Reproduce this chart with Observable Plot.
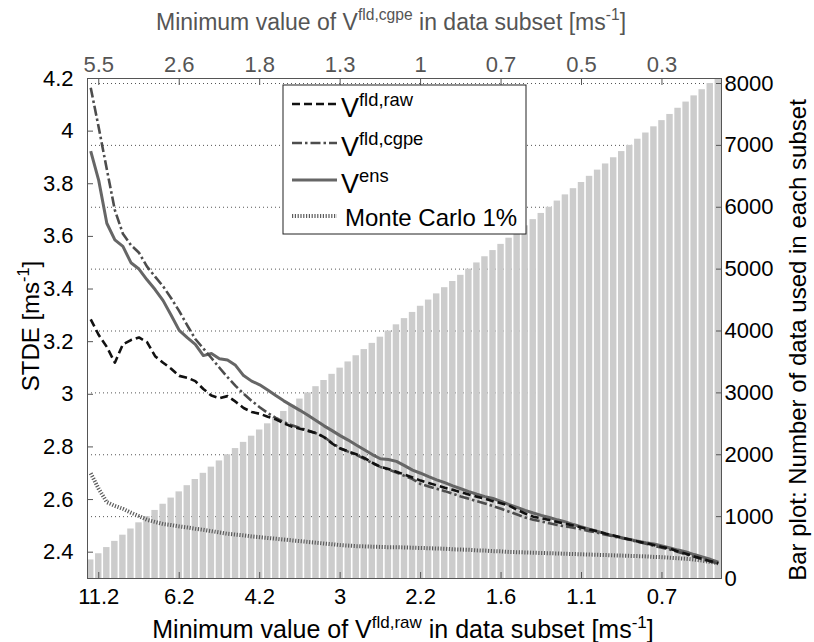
<!DOCTYPE html>
<html>
<head>
<meta charset="utf-8">
<script src="https://cdn.jsdelivr.net/npm/d3@7"></script>
<script src="https://cdn.jsdelivr.net/npm/@observablehq/plot@0.6"></script>
<style>
  html, body { margin: 0; padding: 0; background: #fff; }
  #chart svg { display: block; }
</style>
</head>
<body>
<div id="chart"></div>
<script>
// Subset number (one bar per subset)
const subset = d3.range(1, 80);

// Number of data used in each subset (right axis, bars)
const barCount = [300, 400, 500, 600, 700, 800, 900, 1000, 1100, 1200,
  1300, 1400, 1500, 1600, 1700, 1800, 1900, 2000, 2100, 2200,
  2300, 2400, 2500, 2600, 2700, 2800, 2900, 3000, 3100, 3200,
  3300, 3400, 3500, 3600, 3700, 3800, 3900, 4000, 4100, 4200,
  4300, 4400, 4500, 4600, 4700, 4800, 4900, 5000, 5100, 5200,
  5300, 5400, 5500, 5600, 5700, 5800, 5900, 6000, 6100, 6200,
  6300, 6400, 6500, 6600, 6700, 6800, 6900, 7000, 7100, 7200,
  7300, 7400, 7500, 7600, 7700, 7800, 7900, 8000, 8100];

// STDE [m/s] of each wind product per subset (left axis)
const stdeRaw = [3.285, 3.225, 3.18, 3.12, 3.19, 3.206, 3.216, 3.198, 3.145, 3.12,
  3.097, 3.07, 3.063, 3.05, 3.02, 2.995, 2.985, 2.993, 2.972, 2.948,
  2.933, 2.926, 2.915, 2.905, 2.89, 2.877, 2.869, 2.861, 2.853, 2.837,
  2.813, 2.794, 2.783, 2.772, 2.758, 2.74, 2.725, 2.716, 2.706, 2.695,
  2.684, 2.672, 2.663, 2.654, 2.645, 2.637, 2.628, 2.619, 2.611, 2.603,
  2.594, 2.586, 2.577, 2.561, 2.547, 2.535, 2.529, 2.522, 2.515, 2.508,
  2.501, 2.494, 2.486, 2.479, 2.470, 2.463, 2.455, 2.448, 2.441, 2.434,
  2.427, 2.420, 2.413, 2.403, 2.394, 2.384, 2.375, 2.366, 2.358];

const stdeCgpe = [4.165, 4.013, 3.855, 3.70, 3.61, 3.567, 3.538, 3.485, 3.447, 3.41,
  3.365, 3.316, 3.262, 3.21, 3.174, 3.138, 3.101, 3.065, 3.032, 3.002,
  2.975, 2.951, 2.929, 2.91, 2.895, 2.882, 2.872, 2.862, 2.852, 2.838,
  2.815, 2.795, 2.782, 2.770, 2.755, 2.738, 2.724, 2.714, 2.703, 2.690,
  2.678, 2.659, 2.650, 2.641, 2.632, 2.622, 2.612, 2.603, 2.594, 2.585,
  2.575, 2.565, 2.554, 2.543, 2.532, 2.523, 2.517, 2.510, 2.503, 2.498,
  2.493, 2.487, 2.480, 2.474, 2.466, 2.460, 2.454, 2.447, 2.439, 2.432,
  2.424, 2.417, 2.410, 2.401, 2.392, 2.383, 2.373, 2.365, 2.357];

const stdeEns = [3.924, 3.812, 3.65, 3.587, 3.562, 3.50, 3.476, 3.435, 3.398, 3.356,
  3.30, 3.243, 3.215, 3.19, 3.147, 3.155, 3.135, 3.13, 3.11, 3.071,
  3.05, 3.036, 3.016, 2.995, 2.975, 2.957, 2.939, 2.92, 2.90, 2.88,
  2.862, 2.843, 2.826, 2.807, 2.789, 2.771, 2.755, 2.752, 2.745, 2.729,
  2.712, 2.700, 2.687, 2.675, 2.664, 2.652, 2.641, 2.630, 2.620, 2.611,
  2.604, 2.593, 2.581, 2.570, 2.559, 2.549, 2.540, 2.532, 2.523, 2.515,
  2.505, 2.496, 2.487, 2.479, 2.470, 2.462, 2.455, 2.448, 2.442, 2.436,
  2.431, 2.424, 2.416, 2.408, 2.401, 2.391, 2.382, 2.373, 2.362];

const stdeMonteCarlo = [2.70, 2.64, 2.59, 2.576, 2.565, 2.55, 2.537, 2.523, 2.515, 2.507,
  2.503, 2.498, 2.494, 2.489, 2.485, 2.480, 2.475, 2.470, 2.467, 2.464,
  2.460, 2.457, 2.454, 2.451, 2.448, 2.445, 2.442, 2.439, 2.436, 2.433,
  2.430, 2.427, 2.425, 2.423, 2.422, 2.421, 2.420, 2.419, 2.419, 2.418,
  2.417, 2.416, 2.415, 2.414, 2.413, 2.411, 2.410, 2.409, 2.407, 2.406,
  2.404, 2.403, 2.401, 2.400, 2.399, 2.398, 2.397, 2.396, 2.395, 2.394,
  2.393, 2.392, 2.391, 2.390, 2.389, 2.388, 2.387, 2.386, 2.385, 2.384,
  2.382, 2.381, 2.379, 2.377, 2.375, 2.372, 2.368, 2.363, 2.358];

// Axis ticks
const xTickSubset = [2, 12, 22, 32, 42, 52, 62, 72];
const bottomTickLabels = ["11.2", "6.2", "4.2", "3", "2.2", "1.6", "1.1", "0.7"];
const topTickLabels = ["5.5", "2.6", "1.8", "1.3", "1", "0.7", "0.5", "0.3"];
const leftTicks = [2.4, 2.6, 2.8, 3, 3.2, 3.4, 3.6, 3.8, 4, 4.2];
const rightTicks = [0, 1000, 2000, 3000, 4000, 5000, 6000, 7000, 8000];

const rows = subset.map((i, k) => ({
  i, n: barCount[k], raw: stdeRaw[k], cgpe: stdeCgpe[k], ens: stdeEns[k], mc: stdeMonteCarlo[k]
}));

// The bar counts share the frame with the STDE axis: map counts onto it
const countToSTDE = d3.scaleLinear([0, 8081], [2.3, 4.2]);

const fontFamily = "'Liberation Sans', Arial, Helvetica, sans-serif";
const tickFont = 22;

const series = {
  raw:  {stroke: "#111111", strokeWidth: 2.6, strokeDasharray: "8,4", strokeLinecap: "butt"},
  cgpe: {stroke: "#4d4d4d", strokeWidth: 2.6, strokeDasharray: "10,3,2.5,3", strokeLinecap: "butt"},
  ens:  {stroke: "#666666", strokeWidth: 3, strokeLinecap: "butt"},
  mc:   {stroke: "#5c5c5c", strokeWidth: 4, strokeDasharray: "1.2,1.6", strokeLinecap: "butt"}
};

const chart = Plot.plot({
  width: 814,
  height: 642,
  marginLeft: 87,
  marginRight: 93,
  marginTop: 78,
  marginBottom: 64,
  style: {fontFamily, fontSize: tickFont + "px", background: "#fff", color: "#000", overflow: "visible"},
  x: {domain: [0.6, 79.4], axis: null},
  y: {domain: [2.3, 4.2], axis: null},
  marks: [
    // dotted grid at the right-axis ticks
    Plot.ruleY(rightTicks.slice(1), {y: d => countToSTDE(d), stroke: "#555", strokeDasharray: "1,3", strokeWidth: 1}),
    // bar plot: number of data per subset
    Plot.rect(rows, {x1: d => d.i - 0.4, x2: d => d.i + 0.4, y1: 2.3, y2: d => countToSTDE(d.n), fill: "#cccccc", clip: true}),
    // STDE curves
    Plot.line(rows, {x: "i", y: "mc", ...series.mc}),
    Plot.line(rows, {x: "i", y: "ens", ...series.ens}),
    Plot.line(rows, {x: "i", y: "cgpe", ...series.cgpe}),
    Plot.line(rows, {x: "i", y: "raw", ...series.raw}),
    Plot.frame({stroke: "#555"}),
    // axes with inward ticks
    Plot.axisX(xTickSubset, {anchor: "bottom", tickSize: -6, tickPadding: 16, fontSize: tickFont, color: "#000", stroke: "#555",
      tickFormat: d => bottomTickLabels[xTickSubset.indexOf(d)], label: null}),
    Plot.axisX(xTickSubset, {anchor: "top", tickSize: -6, tickPadding: 13, fontSize: tickFont, color: "#555",
      tickFormat: d => topTickLabels[xTickSubset.indexOf(d)], label: null}),
    Plot.axisY(leftTicks, {anchor: "left", tickSize: -6, tickPadding: 20, fontSize: tickFont, color: "#000", stroke: "#555",
      tickFormat: d => String(d), label: null}),
    Plot.axisY(rightTicks.map(countToSTDE), {anchor: "right", tickSize: -6, tickPadding: 9, fontSize: tickFont, color: "#000", stroke: "#555",
      tickFormat: d => String(Math.round(countToSTDE.invert(d))), label: null})
  ]
});

document.getElementById("chart").appendChild(chart);

// Text with superscripts (axis titles and legend entries)
function richText(parent, {x, y, size, fill = "#000", anchor = "start", rotate = 0}, parts) {
  const t = parent.append("text")
    .attr("transform", `translate(${x},${y}) rotate(${rotate})`)
    .attr("text-anchor", anchor)
    .attr("font-family", fontFamily)
    .attr("font-size", size)
    .attr("fill", fill);
  const rise = size * 0.42;
  let up = false;
  for (const p of parts) {
    const s = t.append("tspan").text(p.text);
    if (p.sup) {
      s.attr("font-size", size * 0.68);
      if (!up) { s.attr("dy", -rise); up = true; }
    } else if (up) {
      s.attr("dy", rise); up = false;
    }
  }
  return t;
}

const svg = d3.select(chart);
const fg = svg.append("g");

// axis titles
richText(fg, {x: 391, y: 30, size: 23, fill: "#555", anchor: "middle"},
  [{text: "Minimum value of V"}, {text: "fld,cgpe", sup: true}, {text: " in data subset [ms"}, {text: "-1", sup: true}, {text: "]"}]);
richText(fg, {x: 403, y: 638, size: 25, anchor: "middle"},
  [{text: "Minimum value of V"}, {text: "fld,raw", sup: true}, {text: " in data subset [ms"}, {text: "-1", sup: true}, {text: "]"}]);
richText(fg, {x: 39, y: 326, size: 24, anchor: "middle", rotate: -90},
  [{text: "STDE [ms"}, {text: "-1", sup: true}, {text: "]"}]);
richText(fg, {x: 806, y: 340, size: 24, anchor: "middle", rotate: -90},
  [{text: "Bar plot: Number of data used in each subset"}]);

// legend
const lg = fg.append("g");
lg.append("rect").attr("x", 283).attr("y", 85).attr("width", 243).attr("height", 149)
  .attr("fill", "#fff").attr("stroke", "#222").attr("stroke-width", 1);
const legendItems = [
  {key: "raw", y: 104, parts: [{text: "V"}, {text: "fld,raw", sup: true}]},
  {key: "cgpe", y: 143, parts: [{text: "V"}, {text: "fld,cgpe", sup: true}]},
  {key: "ens", y: 180, parts: [{text: "V"}, {text: "ens", sup: true}]},
  {key: "mc", y: 216, parts: [{text: "Monte Carlo 1%"}]}
];
for (const item of legendItems) {
  const st = series[item.key];
  lg.append("line").attr("x1", 292).attr("x2", 337).attr("y1", item.y).attr("y2", item.y)
    .attr("stroke", st.stroke).attr("stroke-width", st.strokeWidth)
    .attr("stroke-dasharray", st.strokeDasharray || null)
    .attr("stroke-linecap", "butt");
  if (item.key === "mc") {
    richText(lg, {x: 345, y: item.y + 10, size: 24}, item.parts);
  } else {
    richText(lg, {x: 341, y: item.y + 13, size: 27}, item.parts);
  }
}
</script>
</body>
</html>
